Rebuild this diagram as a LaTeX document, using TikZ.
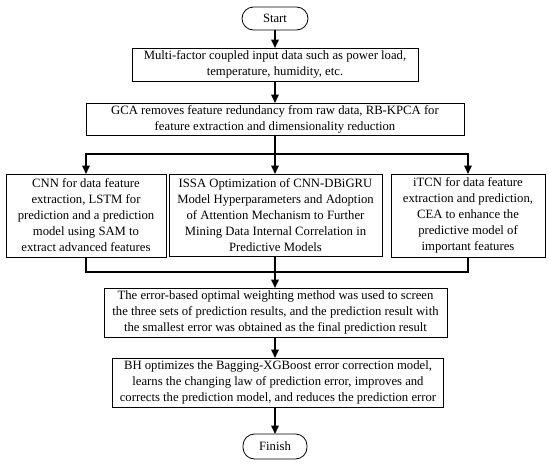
\documentclass[tikz,border=0pt]{standalone}
\usepackage{fontspec}
\setmainfont{Liberation Serif}
\usetikzlibrary{arrows.meta,positioning,calc}
\begin{document}
\begin{tikzpicture}[x=1pt,y=-1pt,
  every node/.style={inner sep=0pt,outer sep=0pt,font=\fontsize{12.7}{16}\selectfont},
  procbox/.style={draw,line width=0.8pt,align=center,anchor=center},
  termbox/.style={draw,line width=0.8pt,rounded corners=11.5pt,align=center,anchor=center},
  conn/.style={line width=1.6pt},
  arr/.style={line width=1.6pt,-{Triangle[length=8.5pt,width=7.5pt]}}]
\useasboundingbox (0,0) rectangle (550,464);
\node[termbox,minimum width=66pt,minimum height=23pt] (start) at (275,18.5) {Start};
\node[procbox,minimum width=286pt,minimum height=33pt] (b1) at (275,64.5) {Multi-factor coupled input data such as power load,\\temperature, humidity, etc.};
\node[procbox,minimum width=378pt,minimum height=32pt] (b2) at (275,119) {GCA removes feature redundancy from raw data, RB-KPCA for\\feature extraction and dimensionality reduction};
\node[procbox,minimum width=160pt,minimum height=83pt] (l) at (86,215.5) {CNN for data feature\\extraction, LSTM for\\prediction and a prediction\\model using SAM to\\extract advanced features};
\node[procbox,minimum width=213pt,minimum height=82pt] (m) at (275.5,215) {ISSA Optimization of CNN-DBiGRU\\Model Hyperparameters and Adoption\\of Attention Mechanism to Further\\Mining Data Internal Correlation in\\Predictive Models};
\node[procbox,minimum width=154pt,minimum height=83pt] (r) at (468,215.5) {iTCN for data feature\\extraction and prediction,\\CEA to enhance the\\predictive model of\\important features};
\node[procbox,minimum width=343pt,minimum height=49pt] (e) at (275.5,312.5) {The error-based optimal weighting method was used to screen\\the three sets of prediction results, and the prediction result with\\the smallest error was obtained as the final prediction result};
\node[procbox,minimum width=331pt,minimum height=49pt] (bh) at (278,382.5) {BH optimizes the Bagging-XGBoost error correction model,\\learns the changing law of prediction error, improves and\\corrects the prediction model, and reduces the prediction error};
\node[termbox,minimum width=64pt,minimum height=25pt] (fin) at (275,446.5) {Finish};
\coordinate (split) at (275,154);
\coordinate (merge) at (275,272);
\draw[arr] (start) -- (b1);
\draw[arr] (b1) -- (b2);
\draw[conn] (b2.south) -- (split);
\draw[arr] (split) -| (l.north);
\draw[arr] (split) -| (r.north);
\draw[arr] (split) -- (m.north -| split);
\draw[conn] (l.south) |- (merge);
\draw[conn] (r.south) |- (merge);
\draw[conn] (m.south -| merge) -- (merge);
\draw[arr] (merge) -- (e.north -| merge);
\draw[arr] (e.south -| merge) -- (bh.north -| merge);
\draw[arr] (bh.south -| fin) -- (fin.north);
\end{tikzpicture}
\end{document}
